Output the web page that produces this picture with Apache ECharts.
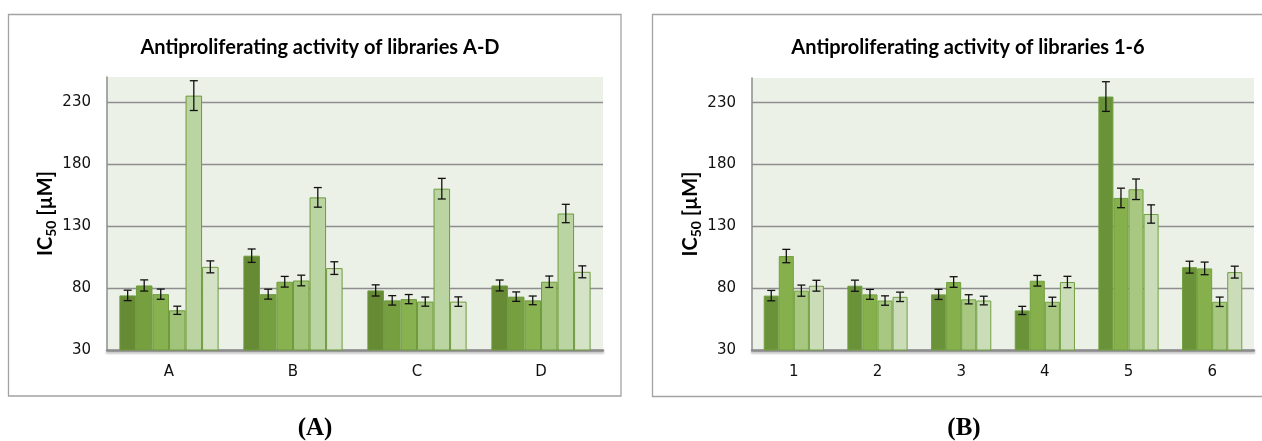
<!DOCTYPE html>
<html>
<head>
<meta charset="utf-8">
<script src="https://cdn.jsdelivr.net/npm/echarts@6/dist/echarts.min.js"></script>
<style>
  html, body { margin: 0; padding: 0; background: #fff; }
  #chart { width: 1262px; height: 441px; }
</style>
</head>
<body>
<div id="chart"></div>
<script>
// IC50 values per library A-D, sub-libraries 1-6
const libsAD = ['A', 'B', 'C', 'D'];
const libs16 = ['1', '2', '3', '4', '5', '6'];
const ic50A = [74, 82, 75, 62, 235, 97];
const ic50B = [106, 75, 85, 86, 153, 96];
const ic50C = [78, 70, 71, 69, 160, 69];
const ic50D = [82, 73, 70, 85, 140, 93];
const errA = [4.2, 4.5, 4.1, 3.3, 12, 4.8];
const errB = [5.4, 4.0, 4.3, 4.3, 7.9, 5.1];
const errC = [4.5, 3.8, 3.7, 3.7, 8.3, 3.8];
const errD = [4.4, 3.8, 3.5, 4.6, 7.4, 4.8];
const yTicks = [30, 80, 130, 180, 230];

const colorsA = ['#678a35', '#76a040', '#88b24f', '#a2c47a', '#bad4a2', '#d4e2c6'];
const colorsB = ['#6a9238', '#86b04b', '#a8c881', '#cadcb8'];

const rowsVal = [ic50A, ic50B, ic50C, ic50D];
const rowsErr = [errA, errB, errC, errD];

function errRender(idx, count, gap) {
  return function (params, api) {
    const x = api.value(0), y = api.value(1), e = api.value(2);
    const band = api.size([1, 0])[0];
    const groupW = band * (1 - gap);
    const barW = groupW / count;
    const cx = api.coord([x, y])[0] - groupW / 2 + barW * (idx + 0.5);
    const top = api.coord([x, y + e])[1];
    const bot = api.coord([x, y - e])[1];
    const cap = 4;
    const st = { stroke: '#111', lineWidth: 1.3 };
    return {
      type: 'group',
      children: [
        { type: 'line', shape: { x1: cx, y1: top, x2: cx, y2: bot }, style: st },
        { type: 'line', shape: { x1: cx - cap, y1: top, x2: cx + cap, y2: top }, style: st },
        { type: 'line', shape: { x1: cx - cap, y1: bot, x2: cx + cap, y2: bot }, style: st }
      ]
    };
  };
}

function yAxisFor(gridIndex) {
  return {
    type: 'value', gridIndex: gridIndex, min: 30, max: 250, interval: 50,
    name: '{a|IC}{b|50}{a| [µM]}', nameLocation: 'middle', nameGap: 49, nameRotate: 90,
    nameTextStyle: {
      rich: {
        a: { fontFamily: 'Lato', fontWeight: 'bold', fontSize: 20, lineHeight: 24, color: '#000' },
        b: { fontFamily: 'Lato', fontWeight: 'bold', fontSize: 14, lineHeight: 16, verticalAlign: 'bottom', color: '#000' }
      }
    },
    axisLine: { show: true, lineStyle: { color: '#8c8c8c', width: 1.5 } },
    axisTick: { show: false },
    axisLabel: {
      color: '#111', fontFamily: 'DejaVu Sans', fontSize: 15, margin: 16,
      showMaxLabel: false,
      formatter: v => (yTicks.indexOf(v) >= 0 ? String(v) : '')
    },
    splitLine: { show: true, showMaxLine: false, lineStyle: { color: '#8e8e8e', width: 1.3 } }
  };
}

function xAxisFor(gridIndex, cats) {
  return {
    type: 'category', gridIndex: gridIndex, data: cats,
    axisTick: { show: false },
    axisLine: { lineStyle: { color: '#8c8c8c', width: 2.5, shadowColor: 'rgba(0,0,0,0.25)', shadowOffsetY: 2, shadowBlur: 2 } },
    axisLabel: { color: '#111', fontFamily: 'DejaVu Sans', fontSize: 15, margin: 15 }
  };
}

const series = [];
// panel A: categories A-D, one bar per sub-library 1-6
for (let i = 0; i < 6; i++) {
  series.push({
    type: 'bar', xAxisIndex: 0, yAxisIndex: 0,
    data: rowsVal.map(r => r[i]),
    barGap: 0, barCategoryGap: '20%',
    itemStyle: { color: colorsA[i], borderColor: '#6f9a3d', borderWidth: 1 }
  });
  series.push({
    type: 'custom', xAxisIndex: 0, yAxisIndex: 0, z: 5,
    renderItem: errRender(i, 6, 0.2),
    encode: { x: 0, y: 1 },
    data: rowsVal.map((r, k) => [k, r[i], rowsErr[k][i]])
  });
}
// panel B: categories 1-6, one bar per library A-D
for (let j = 0; j < 4; j++) {
  series.push({
    type: 'bar', xAxisIndex: 1, yAxisIndex: 1,
    data: rowsVal[j],
    barGap: 0, barCategoryGap: '28%',
    itemStyle: { color: colorsB[j], borderColor: '#72a040', borderWidth: 1 }
  });
  series.push({
    type: 'custom', xAxisIndex: 1, yAxisIndex: 1, z: 5,
    renderItem: errRender(j, 4, 0.28),
    encode: { x: 0, y: 1 },
    data: rowsVal[j].map((v, k) => [k, v, rowsErr[j][k]])
  });
}

const titleStyle = { fontFamily: 'Lato', fontWeight: 'bold', fontSize: 20, color: '#000' };

const option = {
  animation: false,
  backgroundColor: '#fff',
  title: [
    { text: 'Antiproliferating activity of libraries A-D', left: 315, top: 43, textAlign: 'center', textVerticalAlign: 'middle', textStyle: titleStyle },
    { text: 'Antiproliferating activity of libraries 1-6', left: 963, top: 43, textAlign: 'center', textVerticalAlign: 'middle', textStyle: titleStyle }
  ],
  grid: [
    { left: 107, top: 77, right: 659, bottom: 91, show: true, backgroundColor: '#ecf1e8', borderWidth: 0 },
    { left: 752, top: 78, right: 8, bottom: 91, show: true, backgroundColor: '#ecf1e8', borderWidth: 0 }
  ],
  xAxis: [xAxisFor(0, libsAD), xAxisFor(1, libs16)],
  yAxis: [yAxisFor(0), yAxisFor(1)],
  series: series,
  graphic: [
    { type: 'rect', shape: { x: 8.5, y: 14.5, width: 612.5, height: 381.5 }, style: { fill: 'none', stroke: '#a3a3a3', lineWidth: 1.3 }, z: -1 },
    { type: 'rect', shape: { x: 652.5, y: 14.5, width: 700, height: 382 }, style: { fill: 'none', stroke: '#a3a3a3', lineWidth: 1.3 }, z: -1 },
    { type: 'text', x: 315, y: 429, style: { text: '(A)', fontFamily: 'Liberation Serif', fontWeight: 'bold', fontSize: 25, fill: '#000', align: 'center', verticalAlign: 'middle', textAlign: 'center', textVerticalAlign: 'middle' } },
    { type: 'text', x: 964, y: 429, style: { text: '(B)', fontFamily: 'Liberation Serif', fontWeight: 'bold', fontSize: 25, fill: '#000', align: 'center', verticalAlign: 'middle', textAlign: 'center', textVerticalAlign: 'middle' } }
  ]
};

const myChart = echarts.init(document.getElementById('chart'));
myChart.setOption(option);
</script>
</body>
</html>
